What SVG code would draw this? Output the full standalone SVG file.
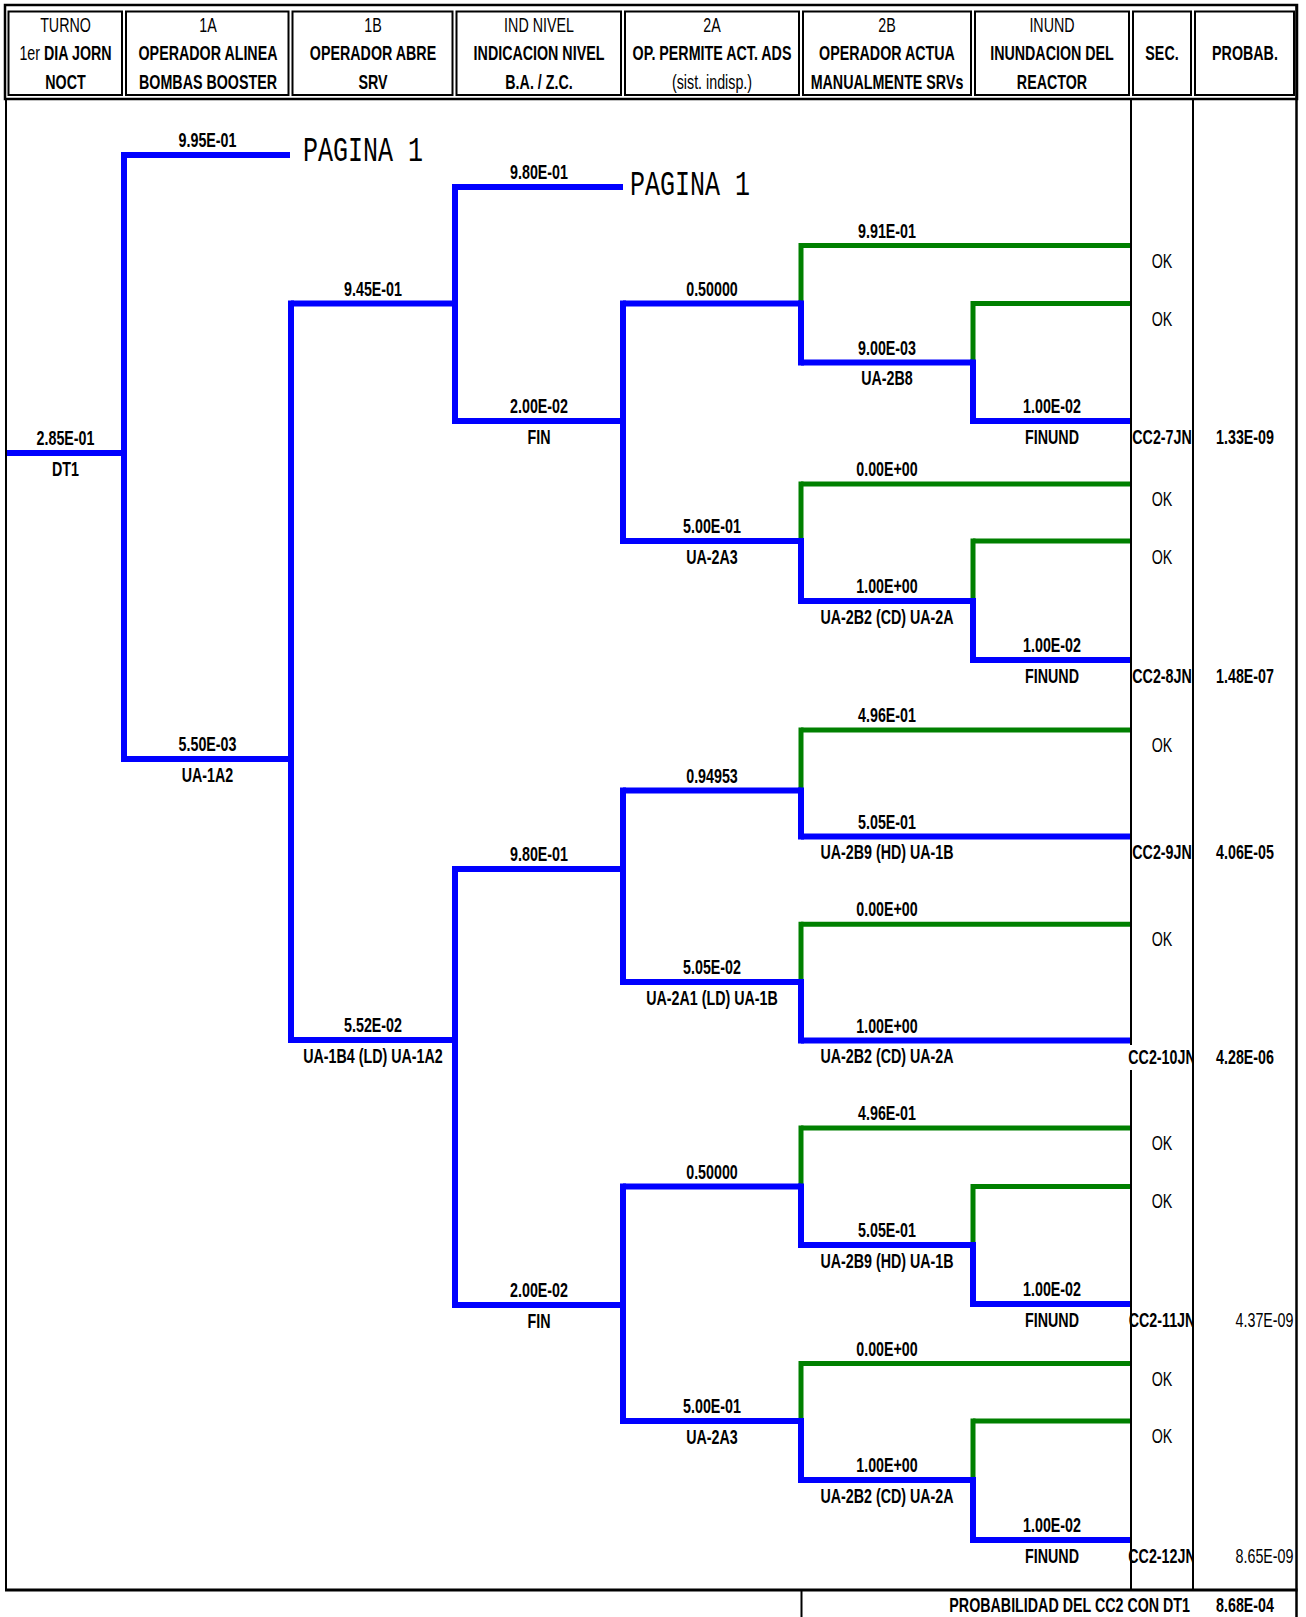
<svg xmlns="http://www.w3.org/2000/svg" width="1306" height="1617" viewBox="0 0 1306 1617">
<style>
.t{font-family:"Liberation Sans",Arial,sans-serif;font-size:21px;text-anchor:middle;fill:#000;font-weight:bold}
.r{font-weight:normal}
.e{text-anchor:end}
.mono{font-family:"Liberation Mono","Courier New",monospace;font-size:25px;fill:#000}
.cell{fill:none;stroke:#000;stroke-width:2}
.ln{fill:none;stroke:#000;stroke-width:2}
.bh{fill:none;stroke:#0000FF;stroke-width:6;stroke-linecap:butt}
.bv{fill:none;stroke:#0000FF;stroke-width:6;stroke-linecap:square}
.gh{fill:none;stroke:#008000;stroke-width:5;stroke-linecap:butt}
.gv{fill:none;stroke:#008000;stroke-width:5;stroke-linecap:square}
</style>
<defs>
<clipPath id="secclip"><rect x="1118" y="99" width="74.5" height="1491"/></clipPath>
</defs>
<rect x="0" y="0" width="1306" height="1617" fill="#fff"/>

<g id="header">
<rect x="5" y="5" width="1292" height="94" fill="none" stroke="#000" stroke-width="2.5"/>
<g id="h-turno"><rect class="cell" x="8.5" y="11.5" width="113.5" height="83.5"/>
<text class="t r" transform="translate(65.5,31.5) scale(.68,1)">TURNO</text>
<text class="t" transform="translate(65.5,60) scale(.68,1)"><tspan class="r">1er </tspan>DIA JORN</text>
<text class="t" transform="translate(65.5,89) scale(.68,1)">NOCT</text></g>
<g id="h-1a"><rect class="cell" x="126" y="11.5" width="162.5" height="83.5"/>
<text class="t r" transform="translate(208,31.5) scale(.68,1)">1A</text>
<text class="t" transform="translate(208,60) scale(.68,1)">OPERADOR ALINEA</text>
<text class="t" transform="translate(208,89) scale(.68,1)">BOMBAS BOOSTER</text></g>
<g id="h-1b"><rect class="cell" x="292.5" y="11.5" width="160" height="83.5"/>
<text class="t r" transform="translate(373,31.5) scale(.68,1)">1B</text>
<text class="t" transform="translate(373,60) scale(.68,1)">OPERADOR ABRE</text>
<text class="t" transform="translate(373,89) scale(.68,1)">SRV</text></g>
<g id="h-ind"><rect class="cell" x="456.5" y="11.5" width="164.5" height="83.5"/>
<text class="t r" transform="translate(539,31.5) scale(.68,1)">IND NIVEL</text>
<text class="t" transform="translate(539,60) scale(.68,1)">INDICACION NIVEL</text>
<text class="t" transform="translate(539,89) scale(.68,1)">B.A. / Z.C.</text></g>
<g id="h-2a"><rect class="cell" x="625" y="11.5" width="174" height="83.5"/>
<text class="t r" transform="translate(712,31.5) scale(.68,1)">2A</text>
<text class="t" transform="translate(712,60) scale(.68,1)">OP. PERMITE ACT. ADS</text>
<text class="t r" transform="translate(712,89) scale(.68,1)">(sist. indisp.)</text></g>
<g id="h-2b"><rect class="cell" x="803" y="11.5" width="168" height="83.5"/>
<text class="t r" transform="translate(887,31.5) scale(.68,1)">2B</text>
<text class="t" transform="translate(887,60) scale(.68,1)">OPERADOR ACTUA</text>
<text class="t" transform="translate(887,89) scale(.68,1)">MANUALMENTE SRVs</text></g>
<g id="h-inund"><rect class="cell" x="975" y="11.5" width="154" height="83.5"/>
<text class="t r" transform="translate(1052,31.5) scale(.68,1)">INUND</text>
<text class="t" transform="translate(1052,60) scale(.68,1)">INUNDACION DEL</text>
<text class="t" transform="translate(1052,89) scale(.68,1)">REACTOR</text></g>
<g id="h-sec"><rect class="cell" x="1133" y="11.5" width="58" height="83.5"/>
<text class="t" transform="translate(1162,60) scale(.68,1)">SEC.</text></g>
<g id="h-probab"><rect class="cell" x="1195" y="11.5" width="99" height="83.5"/>
<text class="t" transform="translate(1245,60) scale(.68,1)">PROBAB.</text></g>
</g>

<g id="connectors">
<path class="gh" d="M801,245.5H1131 M973,303.5H1131 M801,484H1131 M973,541H1131 M801,730H1131 M801,924.3H1131 M801,1128H1131 M973,1186.5H1131 M801,1363.5H1131 M973,1421H1131"/>
<path class="gv" d="M801,245.5V303.5 M973,303.5V362.5 M801,484V541 M973,541V601 M801,730V790.5 M801,924.3V982 M801,1128V1186.5 M973,1186.5V1245 M801,1363.5V1421 M973,1421V1480"/>
<path class="bh" d="M7,453H124 M124,155H290 M124,759H291 M291,303.5H455 M291,1040H455 M455,187H623 M455,421H623 M623,303.5H801 M623,541H801 M801,362.5H973 M973,421H1131 M801,601H973 M973,660H1131 M455,869H623 M455,1305H623 M623,790.5H801 M623,982H801 M801,836.5H1131 M801,1040.5H1131 M623,1186.5H801 M623,1421H801 M801,1245H973 M973,1304H1131 M801,1480H973 M973,1540H1131"/>
<path class="bv" d="M124,155V759 M291,303.5V1040 M455,187V421 M455,869V1305 M623,303.5V541 M623,790.5V982 M623,1186.5V1421 M801,303.5V362.5 M801,541V601 M801,790.5V836.5 M801,982V1040.5 M801,1186.5V1245 M801,1421V1480 M973,362.5V421 M973,601V660 M973,1245V1304 M973,1480V1540"/>
</g>

<g id="n-dt1">
<text class="t" transform="translate(65.5,445) scale(.68,1)">2.85E-01</text>
<text class="t" transform="translate(65.5,475.5) scale(.68,1)">DT1</text>
</g>
<g id="n-1a">
<text class="t" transform="translate(207.5,147) scale(.68,1)">9.95E-01</text>
<text class="mono" transform="translate(303,160.7) scale(1,1.42)">PAGINA 1</text>
<text class="t" transform="translate(207.5,751) scale(.68,1)">5.50E-03</text>
<text class="t" transform="translate(207.5,781.5) scale(.68,1)">UA-1A2</text>
</g>
<g id="n-1b">
<text class="t" transform="translate(373,295.5) scale(.68,1)">9.45E-01</text>
<text class="t" transform="translate(373,1032) scale(.68,1)">5.52E-02</text>
<text class="t" transform="translate(373,1062.5) scale(.68,1)">UA-1B4 (LD) UA-1A2</text>
</g>
<g id="n-ind">
<text class="t" transform="translate(539,178.5) scale(.68,1)">9.80E-01</text>
<text class="mono" transform="translate(630,195) scale(1,1.42)">PAGINA 1</text>
<text class="t" transform="translate(539,413) scale(.68,1)">2.00E-02</text>
<text class="t" transform="translate(539,443.5) scale(.68,1)">FIN</text>
<text class="t" transform="translate(539,861) scale(.68,1)">9.80E-01</text>
<text class="t" transform="translate(539,1297) scale(.68,1)">2.00E-02</text>
<text class="t" transform="translate(539,1327.5) scale(.68,1)">FIN</text>
</g>
<g id="n-2a">
<text class="t" transform="translate(712,295.5) scale(.68,1)">0.50000</text>
<text class="t" transform="translate(712,533) scale(.68,1)">5.00E-01</text>
<text class="t" transform="translate(712,563.5) scale(.68,1)">UA-2A3</text>
<text class="t" transform="translate(712,782.5) scale(.68,1)">0.94953</text>
<text class="t" transform="translate(712,974) scale(.68,1)">5.05E-02</text>
<text class="t" transform="translate(712,1004.5) scale(.68,1)">UA-2A1 (LD) UA-1B</text>
<text class="t" transform="translate(712,1178.5) scale(.68,1)">0.50000</text>
<text class="t" transform="translate(712,1413) scale(.68,1)">5.00E-01</text>
<text class="t" transform="translate(712,1443.5) scale(.68,1)">UA-2A3</text>
</g>
<g id="n-2b">
<text class="t" transform="translate(887,237.5) scale(.68,1)">9.91E-01</text>
<text class="t" transform="translate(887,354.5) scale(.68,1)">9.00E-03</text>
<text class="t" transform="translate(887,385) scale(.68,1)">UA-2B8</text>
<text class="t" transform="translate(887,476) scale(.68,1)">0.00E+00</text>
<text class="t" transform="translate(887,593) scale(.68,1)">1.00E+00</text>
<text class="t" transform="translate(887,623.5) scale(.68,1)">UA-2B2 (CD) UA-2A</text>
<text class="t" transform="translate(887,722) scale(.68,1)">4.96E-01</text>
<text class="t" transform="translate(887,828.5) scale(.68,1)">5.05E-01</text>
<text class="t" transform="translate(887,859) scale(.68,1)">UA-2B9 (HD) UA-1B</text>
<text class="t" transform="translate(887,916.3) scale(.68,1)">0.00E+00</text>
<text class="t" transform="translate(887,1032.5) scale(.68,1)">1.00E+00</text>
<text class="t" transform="translate(887,1063) scale(.68,1)">UA-2B2 (CD) UA-2A</text>
<text class="t" transform="translate(887,1120) scale(.68,1)">4.96E-01</text>
<text class="t" transform="translate(887,1237) scale(.68,1)">5.05E-01</text>
<text class="t" transform="translate(887,1267.5) scale(.68,1)">UA-2B9 (HD) UA-1B</text>
<text class="t" transform="translate(887,1355.5) scale(.68,1)">0.00E+00</text>
<text class="t" transform="translate(887,1472) scale(.68,1)">1.00E+00</text>
<text class="t" transform="translate(887,1502.5) scale(.68,1)">UA-2B2 (CD) UA-2A</text>
</g>
<g id="n-inund">
<text class="t" transform="translate(1052,413) scale(.68,1)">1.00E-02</text>
<text class="t" transform="translate(1052,443.5) scale(.68,1)">FINUND</text>
<text class="t" transform="translate(1052,652) scale(.68,1)">1.00E-02</text>
<text class="t" transform="translate(1052,682.5) scale(.68,1)">FINUND</text>
<text class="t" transform="translate(1052,1296) scale(.68,1)">1.00E-02</text>
<text class="t" transform="translate(1052,1326.5) scale(.68,1)">FINUND</text>
<text class="t" transform="translate(1052,1532) scale(.68,1)">1.00E-02</text>
<text class="t" transform="translate(1052,1562.5) scale(.68,1)">FINUND</text>
</g>

<g id="sequences" clip-path="url(#secclip)">
<text class="t r" transform="translate(1162,267.5) scale(.68,1)">OK</text>
<text class="t r" transform="translate(1162,326) scale(.68,1)">OK</text>
<text class="t" transform="translate(1162,443.5) scale(.68,1)">CC2-7JN</text>
<text class="t r" transform="translate(1162,506) scale(.68,1)">OK</text>
<text class="t r" transform="translate(1162,563.5) scale(.68,1)">OK</text>
<text class="t" transform="translate(1162,682.5) scale(.68,1)">CC2-8JN</text>
<text class="t r" transform="translate(1162,752) scale(.68,1)">OK</text>
<text class="t" transform="translate(1162,859) scale(.68,1)">CC2-9JN</text>
<text class="t r" transform="translate(1162,946) scale(.68,1)">OK</text>
<text class="t" transform="translate(1162,1063.5) scale(.68,1)">CC2-10JN</text>
<text class="t r" transform="translate(1162,1150) scale(.68,1)">OK</text>
<text class="t r" transform="translate(1162,1208) scale(.68,1)">OK</text>
<text class="t" transform="translate(1162,1326.5) scale(.68,1)">CC2-11JN</text>
<text class="t r" transform="translate(1162,1385.5) scale(.68,1)">OK</text>
<text class="t r" transform="translate(1162,1443) scale(.68,1)">OK</text>
<text class="t" transform="translate(1162,1562.5) scale(.68,1)">CC2-12JN</text>
</g>
<g id="probabilities">
<text class="t" transform="translate(1245,443.5) scale(.68,1)">1.33E-09</text>
<text class="t" transform="translate(1245,682.5) scale(.68,1)">1.48E-07</text>
<text class="t" transform="translate(1245,859) scale(.68,1)">4.06E-05</text>
<text class="t" transform="translate(1245,1063.5) scale(.68,1)">4.28E-06</text>
<text class="t r e" transform="translate(1293.5,1326.5) scale(.68,1)">4.37E-09</text>
<text class="t r e" transform="translate(1293.5,1562.5) scale(.68,1)">8.65E-09</text>
</g>

<g id="frame">
<path class="ln" d="M6,99V1590 M1131,99V1045 M1131,1070V1590 M1193,99V1590 M801.5,1590V1617"/>
<path fill="none" stroke="#000" stroke-width="2.5" d="M1296.5,5V1617"/>
<path fill="none" stroke="#000" stroke-width="3" d="M5,1590H1297.5"/>
</g>
<g id="total">
<text class="t e" transform="translate(1190,1611.5) scale(.68,1)">PROBABILIDAD DEL CC2 CON DT1</text>
<text class="t" transform="translate(1245,1611.5) scale(.68,1)">8.68E-04</text>
</g>
</svg>
